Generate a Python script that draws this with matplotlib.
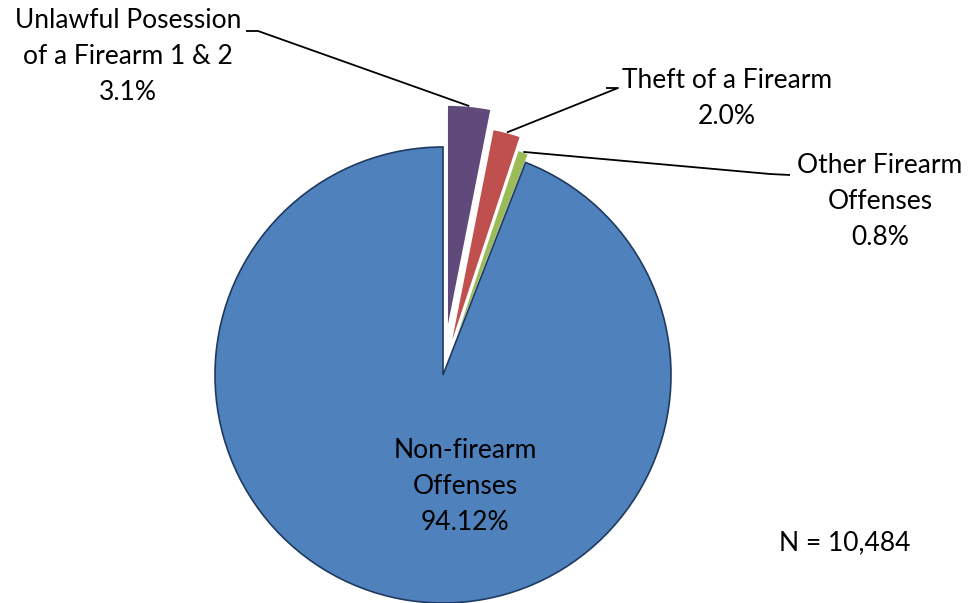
import numpy as np
from matplotlib import pyplot as plt

labels = ["Unlawful Posession\nof a Firearm 1 & 2\n3.1%",
          "Theft of a Firearm\n2.0%",
          "Other Firearm\nOffenses\n0.8%",
          "Non-firearm\nOffenses\n94.12%"]
values = [3.1, 2.0, 0.8, 94.12]
colors = ["#604A7B", "#C0504D", "#9BBB59", "#4F81BD"]
explode = [0.185, 0.10, 0.04, 0.0]
note = "N = 10,484"

W, H = 969, 603
CX, CY, R = 443, 375, 228  # pie centre / radius in pixels (y from top)


def px(x, y):
    # pixel position (from top-left) -> data coords of the pie
    return (x - CX) / R, (CY - y) / R


plt.rcParams['font.family'] = ['Lato', 'DejaVu Sans']
fig = plt.figure(figsize=(W / 100, H / 100), dpi=100)
ax = fig.add_axes([0, 0, 1, 1])

wedges, _ = ax.pie(values, colors=colors, explode=explode, startangle=90,
                   counterclock=False, radius=1.0,
                   wedgeprops=dict(linewidth=1.2, edgecolor="white"))
wedges[3].set_edgecolor("#1F3A5F")
ax.set_xlim(-CX / R, (W - CX) / R)
ax.set_ylim(-(H - CY) / R, CY / R)
ax.set_aspect("auto")
ax.axis("off")

# label positions and leader elbows (pixel layout)
text_pos = [(128, 57), (727, 98), (880, 202), (465, 487)]
elbows = [[(258, 31), (246, 31)],
          [(618, 88), (606, 88)],
          [(770, 174), (790, 175)],
          None]

for w, lab, tp, el, ex in zip(wedges, labels, text_pos, elbows, explode):
    tx, ty = px(*tp)
    ax.text(tx, ty, lab, ha="center", va="center", fontsize=19,
            linespacing=1.55, color="#000000")
    if el is None:
        continue
    mid = np.deg2rad((w.theta1 + w.theta2) / 2)
    r = 1.0 + ex
    xs = [r * np.cos(mid)] + [px(*p)[0] for p in el]
    ys = [r * np.sin(mid)] + [px(*p)[1] for p in el]
    ax.plot(xs, ys, color="black", lw=1.3, solid_capstyle="butt")

nx, ny = px(845, 543)
ax.text(nx, ny, note, ha="center", va="center", fontsize=19)

fig.savefig("out.png", dpi=100)
